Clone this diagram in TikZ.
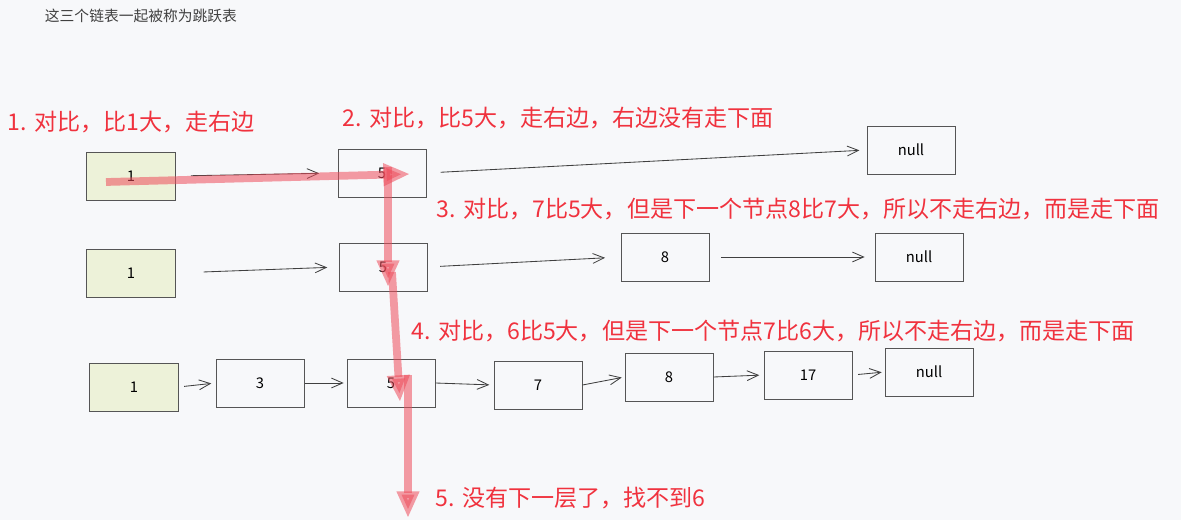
\documentclass[tikz,border=0pt]{standalone}
\usepackage{fontspec}
\setmainfont{Noto Sans CJK SC}
\usetikzlibrary{arrows.meta}

\definecolor{paper}{RGB}{247,248,250}
\definecolor{headfill}{RGB}{237,242,217}
\definecolor{boxline}{RGB}{85,85,85}
\definecolor{hopred}{RGB}{238,75,90}
\definecolor{notered}{RGB}{240,50,62}

\begin{document}
\begin{tikzpicture}[x=0.025cm, y=-0.025cm]

\tikzset{listbox/.style={draw=boxline, line width=0.7pt, minimum width=2.2cm, minimum height=1.2cm, font=\fontsize{10.5}{12}\selectfont}}
\tikzset{headbox/.style={listbox, fill=headfill}}
\tikzset{link/.style={draw=black!75, line width=0.6pt, -{Straight Barb[length=8pt, width=7pt]}}}
\tikzset{hop/.style={draw=hopred, opacity=0.55, line width=5.5pt, -{Triangle[length=19pt, width=15pt]}}}
\tikzset{note/.style={anchor=west, text=notered, font=\fontsize{16.4}{19}\selectfont}}

\fill[paper] (0,0) rectangle (1181,520);

\node[anchor=west, text=black!75, font=\fontsize{10.5}{12}\selectfont] (title) at (40,16) {这三个链表一起被称为跳跃表};

% top level
\node[headbox] (h1) at (131,176) {1};
\node[listbox] (t5) at (382,173) {5};
\node[listbox] (tnull) at (911,150) {null};

% middle level
\node[headbox] (m1) at (131,273) {1};
\node[listbox] (m5) at (383,267) {5};
\node[listbox] (m8) at (665,257) {8};
\node[listbox] (mnull) at (919,257) {null};

% bottom level
\node[headbox] (b1) at (134,387) {1};
\node[listbox] (b3) at (260,383) {3};
\node[listbox] (b5) at (391,383) {5};
\node[listbox] (b7) at (538,385) {7};
\node[listbox] (b8) at (669,377) {8};
\node[listbox] (b17) at (808,375) {17};
\node[listbox] (bnull) at (929,372) {null};

\draw[link, shorten <=11pt, shorten >=13pt] (h1.east) -- (t5.west);
\draw[link, shorten <=10pt, shorten >=5pt] (t5.east) -- (tnull.west);

\draw[link, shorten <=20pt, shorten >=8pt] (m1.east) -- (m5.west);
\draw[link, shorten <=9pt, shorten >=11pt] (m5.east) -- (m8.west);
\draw[link, shorten <=8pt, shorten >=7pt] (m8.east) -- (mnull.west);

\draw[link, shorten <=4pt, shorten >=3pt] (b1.east) -- (b3.west);
\draw[link, shorten >=2pt] (b3.east) -- (b5.west);
\draw[link, shorten >=3pt] (b5.east) -- (b7.west);
\draw[link, shorten >=2pt] (b7.east) -- (b8.west);
\draw[link, shorten >=3pt] (b8.east) -- (b17.west);
\draw[link, shorten <=4pt, shorten >=2pt] (b17.east) -- (bnull.west);

% search path
\coordinate (s1) at (106,182);
\coordinate (s2) at (410,174);
\coordinate (s3) at (388,167);
\coordinate (s4) at (388,287);
\coordinate (s5) at (392,272);
\coordinate (s6) at (400,402);
\coordinate (s7) at (408,375);
\coordinate (s8) at (408,518);

\draw[hop] (s1) -- (s2);
\draw[hop] (s3) -- (s4);
\draw[hop] (s5) -- (s6);
\draw[hop] (s7) -- (s8);

\node[note] (n1) at (3,122) {1. 对比，比1大，走右边};
\node[note] (n2) at (338,118) {2. 对比，比5大，走右边，右边没有走下面};
\node[note] (n3) at (432,209) {3. 对比，7比5大，但是下一个节点8比7大，所以不走右边，而是走下面};
\node[note] (n4) at (407,331) {4. 对比，6比5大，但是下一个节点7比6大，所以不走右边，而是走下面};
\node[note] (n5) at (431,498) {5. 没有下一层了，找不到6};

\end{tikzpicture}
\end{document}
